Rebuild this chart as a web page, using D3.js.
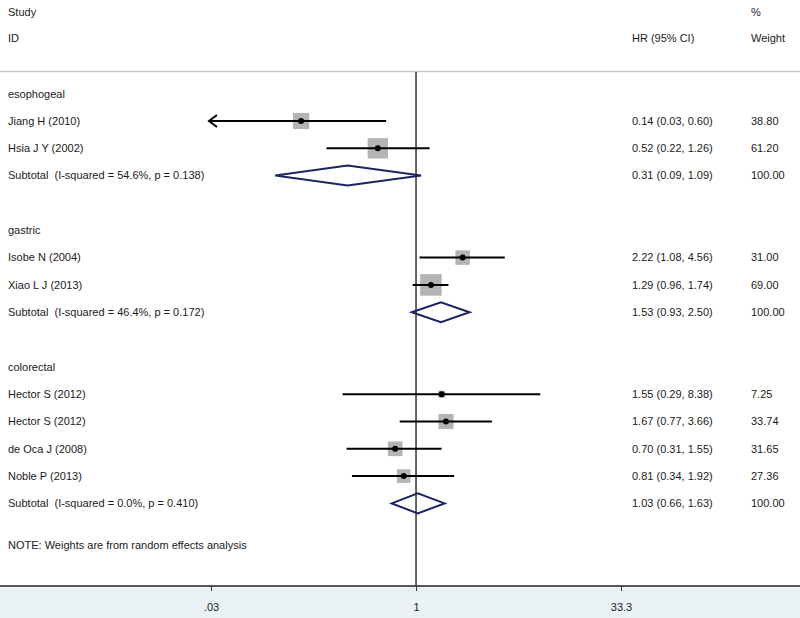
<!DOCTYPE html>
<html>
<head>
<meta charset="utf-8">
<script src="https://cdn.jsdelivr.net/npm/d3@7"></script>
<style>
  body { margin: 0; background: #fff; }
  text { font-family: "Liberation Sans", Arial, sans-serif; font-size: 11px; fill: #1a1a1a; white-space: pre; }
</style>
</head>
<body>
<script>
(function() {

    // forest plot: HR by tumour site, random effects

    var width = 800,
        height = 618;

    // study rows
    var studies = ["Jiang H (2010)", "Hsia J Y (2002)", "Isobe N (2004)", "Xiao L J (2013)",
                   "Hector S (2012)", "Hector S (2012)", "de Oca J (2008)", "Noble P (2013)"];
    var studyGroup = ["esophogeal", "esophogeal", "gastric", "gastric",
                      "colorectal", "colorectal", "colorectal", "colorectal"];
    var hr = [0.14, 0.52, 2.22, 1.29, 1.55, 1.67, 0.70, 0.81];
    var lower = [0.03, 0.22, 1.08, 0.96, 0.29, 0.77, 0.31, 0.34];
    var upper = [0.60, 1.26, 4.56, 1.74, 8.38, 3.66, 1.55, 1.92];
    var weight = ["38.80", "61.20", "31.00", "69.00", "7.25", "33.74", "31.65", "27.36"];
    var hrText = ["0.14 (0.03, 0.60)", "0.52 (0.22, 1.26)", "2.22 (1.08, 4.56)", "1.29 (0.96, 1.74)",
                  "1.55 (0.29, 8.38)", "1.67 (0.77, 3.66)", "0.70 (0.31, 1.55)", "0.81 (0.34, 1.92)"];

    // subgroups and pooled estimates
    var groups = ["esophogeal", "gastric", "colorectal"];
    var subHr = [0.31, 1.53, 1.03];
    var subLower = [0.09, 0.93, 0.66];
    var subUpper = [1.09, 2.50, 1.63];
    var subLabel = ["Subtotal  (I-squared = 54.6%, p = 0.138)",
                    "Subtotal  (I-squared = 46.4%, p = 0.172)",
                    "Subtotal  (I-squared = 0.0%, p = 0.410)"];
    var subText = ["0.31 (0.09, 1.09)", "1.53 (0.93, 2.50)", "1.03 (0.66, 1.63)"];

    var tickValues = [0.03, 1, 33.3];
    var tickLabels = [".03", "1", "33.3"];

    var svg = d3.select("body").append("svg")
        .attr("width", width)
        .attr("height", height);

    var x = d3.scaleLog().domain([0.03, 33.3]).range([211, 621]);

    // lay out rows
    var rows = [];
    var y0 = 93.7, rowH = 27.3, gap = 27.4;
    var yy = y0;
    groups.forEach(function(g, gi) {
        rows.push({type: "group", label: g, y: yy});
        yy += rowH;
        studies.forEach(function(s, i) {
            if (studyGroup[i] === g) {
                rows.push({type: "study", i: i, y: yy});
                yy += rowH;
            }
        });
        rows.push({type: "sub", i: gi, y: yy});
        yy += rowH + gap;
    });
    var noteY = yy - 12.5;

    // bottom band + axis
    var axisY = 586;
    svg.append("rect")
        .attr("x", 0).attr("y", axisY)
        .attr("width", width).attr("height", height - axisY)
        .attr("fill", "#e9f1f4");

    svg.append("line")
        .attr("x1", 0).attr("x2", width)
        .attr("y1", 71.5).attr("y2", 71.5)
        .attr("stroke", "#c8c8c8").attr("stroke-width", 1.5);

    svg.append("line")
        .attr("x1", 0).attr("x2", width)
        .attr("y1", axisY).attr("y2", axisY)
        .attr("stroke", "#222").attr("stroke-width", 1.5);

    var axis = svg.append("g")
        .attr("transform", "translate(0," + axisY + ")")
        .call(d3.axisBottom(x)
            .tickValues(tickValues)
            .tickFormat(function(d, i) { return tickLabels[i]; })
            .tickSize(5)
            .tickSizeOuter(0));
    axis.select(".domain").remove();
    axis.selectAll(".tick line").attr("stroke", "#333");
    axis.selectAll(".tick text")
        .attr("y", 17)
        .style("font-family", "Liberation Sans, Arial, sans-serif")
        .style("font-size", "11px")
        .attr("fill", "#1a1a1a");

    // null line
    svg.append("line")
        .attr("x1", x(1)).attr("x2", x(1))
        .attr("y1", 72).attr("y2", axisY)
        .attr("stroke", "#333").attr("stroke-width", 1.5);

    // header text
    var colHr = 632, colW = 751, colLabel = 8;
    svg.append("text").attr("x", colLabel).attr("y", 12).attr("dy", "0.35em").text("Study");
    svg.append("text").attr("x", colLabel).attr("y", 38).attr("dy", "0.35em").text("ID");
    svg.append("text").attr("x", colHr).attr("y", 38).attr("dy", "0.35em").text("HR (95% CI)");
    svg.append("text").attr("x", colW).attr("y", 12).attr("dy", "0.35em").text("%");
    svg.append("text").attr("x", colW).attr("y", 38).attr("dy", "0.35em").text("Weight");

    var boxScale = 2.6;

    rows.forEach(function(r) {
        var label, right, wt;
        if (r.type === "group") {
            label = r.label;
        } else if (r.type === "study") {
            var i = r.i;
            label = studies[i];
            right = hrText[i];
            wt = weight[i];
            var side = boxScale * Math.sqrt(+weight[i]);
            svg.append("rect")
                .attr("x", x(hr[i]) - side / 2).attr("y", r.y - side / 2)
                .attr("width", side).attr("height", side)
                .attr("fill", "#b4b4b4");
            var lo = Math.max(lower[i], x.domain()[0]);
            var clipped = lower[i] <= x.domain()[0];
            svg.append("line")
                .attr("x1", x(lo) - 1).attr("x2", x(Math.min(upper[i], x.domain()[1])))
                .attr("y1", r.y).attr("y2", r.y)
                .attr("stroke", "#000").attr("stroke-width", 2);
            if (clipped) {
                var ax = x(lo) - 2;
                svg.append("path")
                    .attr("d", "M" + (ax + 8) + "," + (r.y - 6) + "L" + ax + "," + r.y + "L" + (ax + 8) + "," + (r.y + 6))
                    .attr("fill", "none").attr("stroke", "#000").attr("stroke-width", 2);
            }
            svg.append("circle")
                .attr("cx", x(hr[i])).attr("cy", r.y).attr("r", 3)
                .attr("fill", "#000");
        } else {
            var g = r.i;
            label = subLabel[g];
            right = subText[g];
            wt = "100.00";
            var h = 10;
            svg.append("path")
                .attr("d", "M" + x(subLower[g]) + "," + r.y +
                           "L" + x(subHr[g]) + "," + (r.y - h) +
                           "L" + x(subUpper[g]) + "," + r.y +
                           "L" + x(subHr[g]) + "," + (r.y + h) + "Z")
                .attr("fill", "none").attr("stroke", "#1b2464").attr("stroke-width", 2);
        }
        svg.append("text").attr("x", colLabel).attr("y", r.y).attr("dy", "0.35em").text(label);
        if (right) {
            svg.append("text").attr("x", colHr).attr("y", r.y).attr("dy", "0.35em").text(right);
            svg.append("text").attr("x", colW).attr("y", r.y).attr("dy", "0.35em").text(wt);
        }
    });

    svg.append("text").attr("x", colLabel).attr("y", noteY).attr("dy", "0.35em")
        .text("NOTE: Weights are from random effects analysis");

})();
</script>
</body>
</html>
